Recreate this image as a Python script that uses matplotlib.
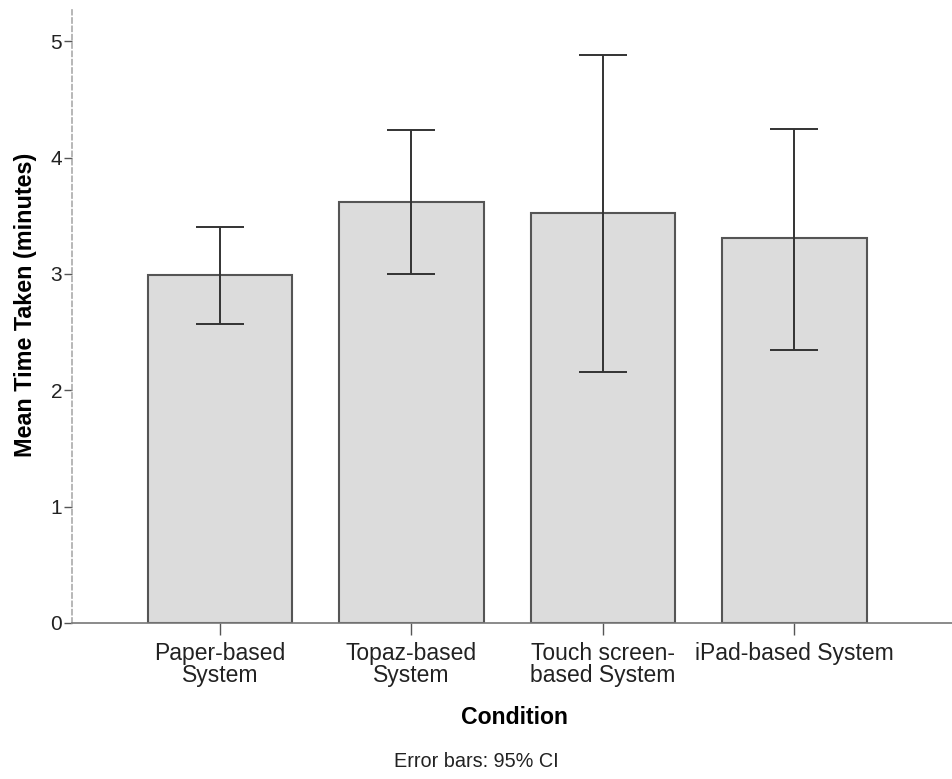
import numpy as np
import matplotlib
matplotlib.use("Agg")
import matplotlib.pyplot as plt

plt.rcParams["font.family"] = ["Liberation Sans", "DejaVu Sans"]

condicoes = ["Paper-based\nSystem", "Topaz-based\nSystem", "Touch screen-\nbased System", "iPad-based System"]
media = [2.99, 3.62, 3.52, 3.31]
ic_inf = [2.57, 3.00, 2.16, 2.35]
ic_sup = [3.40, 4.24, 4.88, 4.25]

x = np.arange(len(condicoes))
media_arr = np.array(media)
erro = [media_arr - np.array(ic_inf), np.array(ic_sup) - media_arr]

fig = plt.figure(figsize=(9.52, 7.79), dpi=100)
ax = fig.add_axes([0.0756, 0.2003, 0.9244, 0.787])

ax.bar(x, media, width=0.755, color="#dcdcdc", edgecolor="#555555", linewidth=1.5, zorder=2)
ax.errorbar(x, media, yerr=erro, fmt="none", ecolor="#333333", elinewidth=1.4,
            capsize=17.5, capthick=1.4, zorder=3)

ax.set_xlim(-0.773, 3.824)
ax.set_ylim(0, 5.27)
ax.set_yticks([0, 1, 2, 3, 4, 5])
ax.set_xticks(x)
ax.set_xticklabels(condicoes, fontsize=16.5, linespacing=0.95, color="#222222")
ax.tick_params(axis="y", labelsize=15, length=6, width=1, color="#555555", pad=1, labelcolor="#222222")
ax.tick_params(axis="x", length=8.5, width=1, color="#555555", pad=5)

ax.spines["top"].set_visible(False)
ax.spines["right"].set_visible(False)
ax.spines["left"].set_linestyle((0, (3, 2)))
ax.spines["left"].set_color("#aaaaaa")
ax.spines["left"].set_linewidth(1.2)
ax.spines["bottom"].set_color("#777777")
ax.spines["bottom"].set_linewidth(1.2)

ax.set_ylabel("Mean Time Taken (minutes)", fontsize=16.8, fontweight="bold")
ax.yaxis.set_label_coords(-0.040, 0.519)
ax.set_xlabel("Condition", fontsize=16.6, fontweight="bold")
ax.xaxis.set_label_coords(0.503, -0.135)

fig.text(0.5, 0.022, "Error bars: 95% CI", fontsize=14.3, ha="center", va="center", color="#222222")

fig.savefig("out.png", dpi=100)
plt.close(fig)
